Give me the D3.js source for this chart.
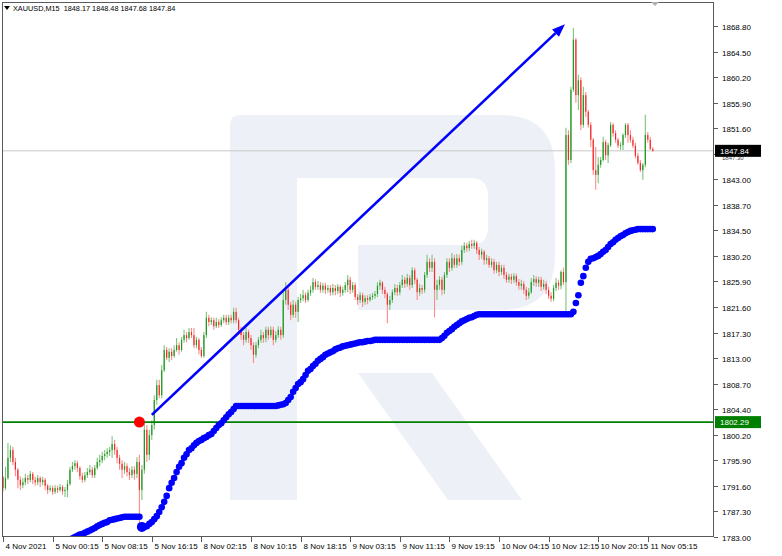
<!DOCTYPE html>
<html><head><meta charset="utf-8">
<script src="https://cdn.jsdelivr.net/npm/d3@7"></script>
<style>
body{margin:0;background:#fff}
svg{display:block}
text{font-family:"Liberation Sans",Arial,sans-serif;white-space:pre}
</style>
</head><body>
<svg id="chart" width="782" height="556"></svg>
<script>
// ---------------- DATA ----------------
const symbolTitle = "XAUUSD,M15  1848.17 1848.48 1847.68 1847.84";
const firstOpen = 1793.1;
const closes = [
1791.2,1792.9,1796.3,1797.6,1795.6,1794.3,1792.6,1791.7,1792.2,1792.9,
1792.6,1793.6,1792.6,1792.2,1792.9,1792.2,1792.6,1791.6,1790.9,1791.2,
1790.6,1791.2,1790.9,1791.4,1790.7,1790.9,1791.9,1794.3,1794.9,1795.4,
1794.6,1793.2,1792.6,1793.4,1793.9,1794.3,1793.4,1794.6,1795.6,1795.9,
1796.6,1796.9,1797.3,1797.6,1798.6,1797.6,1796.3,1795.3,1794.3,1794.9,
1793.9,1793.4,1794.3,1793.6,1795.6,1790.9,1794.3,1801.0,1796.8,1800.1,
1801.8,1806.0,1808.5,1806.8,1811.0,1814.4,1813.1,1814.1,1813.4,1814.4,
1815.2,1814.4,1816.1,1816.9,1816.4,1817.4,1816.9,1815.2,1816.1,1814.4,
1813.4,1816.9,1819.8,1819.1,1819.4,1818.4,1819.1,1818.6,1819.4,1819.8,
1819.1,1819.8,1819.4,1820.8,1819.4,1817.8,1816.9,1816.1,1817.4,1816.4,
1815.2,1813.6,1815.2,1816.1,1816.9,1816.4,1817.8,1816.9,1817.8,1816.1,
1816.9,1817.8,1816.9,1822.8,1824.5,1822.0,1820.3,1822.0,1820.8,1822.8,
1823.1,1823.6,1822.8,1824.0,1824.5,1825.8,1825.0,1825.3,1824.5,1825.2,
1824.5,1824.8,1824.1,1824.8,1824.3,1825.0,1824.0,1824.5,1825.3,1826.2,
1824.5,1825.3,1823.3,1822.8,1823.6,1822.5,1823.1,1822.8,1823.3,1823.5,
1823.8,1825.2,1825.7,1824.5,1823.8,1822.0,1822.8,1824.1,1824.8,1824.1,
1825.3,1826.2,1825.5,1826.5,1825.3,1827.8,1826.2,1824.1,1824.8,1824.5,
1827.0,1829.2,1828.2,1829.2,1824.5,1825.3,1826.2,1824.5,1827.0,1829.2,
1828.2,1829.8,1828.7,1829.8,1829.2,1831.2,1831.9,1831.5,1832.2,1831.9,
1832.4,1831.2,1830.4,1830.9,1829.5,1829.8,1828.7,1829.2,1827.8,1828.7,
1827.5,1828.2,1827.0,1826.2,1826.7,1826.2,1826.8,1825.8,1825.2,1825.5,
1824.5,1823.5,1824.1,1825.8,1826.3,1825.7,1826.2,1825.0,1825.5,1824.5,
1823.5,1823.0,1824.8,1825.7,1825.2,1827.5,1825.8,1850.5,1846.3,1858.1,
1866.5,1857.2,1859.7,1852.2,1857.2,1854.4,1852.2,1849.7,1844.6,1843.8,
1845.5,1846.3,1849.3,1847.1,1848.8,1852.2,1850.8,1849.7,1848.7,1848.8,
1850.5,1852.2,1850.5,1849.7,1848.7,1847.0,1845.8,1844.6,1845.5,1850.5,
1849.7,1848.17,1847.84];
const highs = [
1793.2,1794.8,1798.8,1798.4,1798.1,1796.3,1794.6,1793.2,1792.9,1793.6,
1793.4,1794.1,1793.9,1793.1,1793.4,1793.2,1793.1,1792.9,1791.9,1791.7,
1791.6,1791.7,1791.6,1791.9,1791.7,1791.4,1792.6,1794.8,1795.6,1795.9,
1795.8,1794.9,1793.8,1793.9,1794.6,1795.1,1794.8,1795.1,1796.3,1796.8,
1797.3,1797.6,1797.9,1798.1,1799.9,1799.3,1798.1,1796.8,1795.9,1795.6,
1795.4,1794.6,1794.9,1794.9,1796.4,1796.8,1795.1,1802.1,1801.8,1801.0,
1802.6,1806.8,1809.4,1809.4,1811.9,1815.2,1814.9,1814.7,1814.7,1815.2,
1816.4,1815.7,1816.6,1817.8,1817.4,1818.1,1818.1,1818.1,1816.6,1816.4,
1814.9,1817.4,1820.8,1820.3,1819.9,1819.8,1819.8,1819.6,1819.9,1820.3,
1820.3,1820.3,1820.3,1821.5,1821.5,1819.8,1818.3,1817.4,1818.1,1817.8,
1816.9,1815.7,1815.7,1816.6,1817.8,1817.4,1818.3,1818.3,1818.4,1818.3,
1817.6,1818.4,1818.3,1824.1,1825.8,1825.0,1822.5,1822.8,1822.5,1823.3,
1823.8,1824.5,1824.1,1824.5,1825.2,1826.5,1826.3,1826.0,1825.8,1825.7,
1825.7,1825.3,1825.3,1825.5,1825.3,1825.5,1825.3,1825.0,1825.8,1827.0,
1826.7,1825.8,1825.7,1823.8,1824.1,1824.0,1823.6,1823.6,1823.8,1824.0,
1824.3,1825.8,1826.2,1826.0,1825.0,1824.1,1823.5,1824.6,1825.5,1825.3,
1825.8,1827.0,1826.7,1827.2,1827.0,1828.3,1828.2,1826.5,1825.5,1825.3,
1827.5,1830.4,1829.8,1830.4,1829.8,1826.2,1826.8,1826.7,1827.5,1829.8,
1829.8,1830.7,1830.4,1830.5,1830.4,1831.9,1832.5,1832.4,1832.7,1832.9,
1832.9,1832.7,1831.7,1831.4,1831.2,1830.4,1830.2,1829.8,1829.7,1829.2,
1829.2,1828.7,1828.7,1827.5,1827.2,1827.2,1827.3,1827.2,1826.3,1826.2,
1826.0,1825.0,1824.8,1826.5,1827.0,1826.8,1826.7,1826.7,1826.2,1826.0,
1825.0,1824.1,1825.3,1826.5,1826.2,1827.8,1828.2,1851.7,1851.3,1858.6,
1868.5,1866.8,1860.6,1860.2,1858.6,1857.7,1854.7,1852.7,1850.0,1848.5,
1846.8,1846.8,1850.2,1849.7,1849.2,1852.7,1852.5,1851.3,1850.0,1849.3,
1850.8,1852.5,1852.5,1851.3,1850.2,1849.2,1847.5,1846.3,1845.8,1853.9,
1851.0,1850.2,1848.48];
const lows = [
1790.6,1790.9,1792.6,1795.6,1795.1,1793.2,1791.2,1790.9,1791.2,1791.7,
1791.9,1792.2,1791.9,1791.6,1791.7,1791.4,1791.7,1790.9,1790.2,1790.6,
1790.1,1790.2,1790.4,1790.6,1790.1,1789.7,1789.7,1791.6,1793.9,1794.3,
1793.9,1792.6,1792.1,1792.2,1792.9,1793.4,1792.9,1792.9,1794.3,1794.9,
1795.4,1795.9,1796.3,1796.6,1796.3,1796.8,1795.4,1794.3,1792.9,1793.6,
1793.2,1792.6,1792.9,1792.6,1792.9,1785.0,1789.2,1793.6,1795.6,1795.9,
1799.3,1801.0,1805.2,1806.3,1806.3,1810.7,1812.7,1812.4,1812.7,1813.1,
1814.1,1813.6,1814.1,1815.6,1815.7,1816.1,1816.4,1814.7,1814.7,1813.7,
1813.1,1813.1,1816.4,1818.4,1818.6,1817.8,1818.1,1818.1,1818.3,1818.9,
1818.6,1818.6,1818.9,1818.9,1818.9,1816.9,1816.1,1815.2,1815.6,1815.6,
1814.4,1812.2,1813.1,1814.7,1815.6,1815.6,1815.7,1816.1,1816.4,1815.2,
1815.6,1816.4,1816.1,1816.4,1822.0,1821.1,1819.4,1819.8,1819.8,1819.1,
1822.3,1822.6,1822.3,1822.5,1823.5,1824.0,1824.5,1824.5,1824.0,1824.0,
1823.8,1824.0,1823.5,1823.6,1823.6,1823.8,1823.3,1823.5,1824.0,1824.1,
1823.8,1824.0,1822.8,1822.0,1822.3,1821.6,1822.0,1822.1,1822.5,1822.8,
1823.0,1823.3,1824.5,1823.8,1823.1,1818.9,1821.1,1822.3,1823.6,1823.5,
1823.6,1824.8,1824.8,1825.0,1824.5,1824.8,1825.5,1822.8,1823.5,1823.8,
1824.0,1826.5,1827.5,1827.5,1819.9,1822.8,1824.5,1823.6,1823.8,1826.5,
1827.5,1827.7,1828.2,1828.2,1828.5,1828.7,1830.7,1830.9,1831.0,1831.4,
1831.4,1830.5,1829.5,1829.7,1828.7,1828.8,1828.2,1828.2,1827.2,1827.3,
1826.8,1827.0,1826.3,1825.7,1825.7,1825.5,1825.7,1825.2,1824.5,1824.5,
1823.8,1822.8,1823.0,1823.8,1825.2,1825.0,1825.0,1824.3,1824.5,1823.8,
1823.0,1822.5,1822.6,1824.3,1824.5,1824.6,1825.3,1820.8,1845.5,1845.8,
1857.7,1855.9,1854.7,1851.3,1851.7,1853.5,1851.7,1848.5,1843.8,1841.3,
1842.4,1845.0,1846.0,1846.3,1845.8,1848.5,1850.2,1849.2,1848.3,1848.0,
1848.0,1850.0,1849.2,1849.2,1848.3,1846.6,1845.5,1844.3,1843.0,1845.1,
1849.2,1848.0,1847.68];

// trailing indicator (blue dots), starting at bar indicatorStart
const indicatorStart = 26;
const indicator = [
1782.2,1782.5,1782.8,1783.0,1783.2,1783.4,1783.5,1783.7,1783.9,1784.1,
1784.3,1784.5,1784.8,1785.0,1785.2,1785.4,1785.5,1785.8,1785.9,1786.0,
1786.1,1786.2,1786.3,1786.4,1786.4,1786.4,1786.4,1786.4,1786.4,1786.4,
1784.7,1784.7,1784.8,1785.2,1785.5,1786.0,1786.5,1787.2,1788.0,1788.9,
1789.9,1791.2,1792.1,1792.9,1793.9,1794.8,1795.4,1796.3,1796.9,1797.6,
1797.9,1798.4,1798.8,1799.1,1799.3,1799.6,1799.8,1800.1,1800.3,1800.8,
1801.3,1801.8,1802.1,1802.6,1803.1,1803.6,1804.0,1804.5,1805.0,
1805.0,1805.0,1805.0,1805.0,1805.0,1805.0,1805.0,1805.0,1805.0,1805.0,
1805.0,1805.0,1805.0,1805.0,1805.0,1805.0,
1805.1,1805.2,1805.3,1805.5,1806.0,1806.5,1807.4,1808.0,1808.7,1809.0,
1809.5,1810.2,1810.9,1811.2,1811.7,1812.1,1812.6,1812.9,1813.2,1813.6,
1813.8,1814.0,1814.2,1814.5,1814.7,1814.8,1815.0,1815.1,1815.2,1815.3,
1815.4,1815.5,1815.6,1815.7,1815.7,1815.8,1815.9,1815.9,1816.0,
1816.1,1816.1,1816.1,1816.1,1816.1,1816.1,1816.1,1816.1,1816.1,1816.1,
1816.1,1816.1,1816.1,1816.1,1816.1,1816.1,1816.1,1816.1,1816.1,1816.1,
1816.1,1816.1,1816.1,1816.1,1816.1,1816.1,1816.1,
1816.4,1816.8,1817.3,1817.6,1817.9,1818.3,1818.6,1818.9,1819.2,1819.4,
1819.6,1819.8,1819.9,1820.1,1820.3,
1820.4,1820.4,1820.4,1820.4,1820.4,1820.4,1820.4,1820.4,1820.4,1820.4,
1820.4,1820.4,1820.4,1820.4,1820.4,1820.4,1820.4,1820.4,1820.4,1820.4,
1820.4,1820.4,1820.4,1820.4,1820.4,1820.4,1820.4,1820.4,1820.4,1820.4,
1820.4,1820.4,1820.4,1820.4,1820.4,1820.4,1820.4,1820.4,
1820.8,1822.3,1823.6,1825.7,1826.8,1828.2,1829.2,1829.7,1829.8,1830.0,
1830.2,1830.5,1830.9,1831.2,1831.7,1832.2,1832.5,1832.9,1833.2,1833.5,
1833.7,1834.0,1834.2,1834.4,1834.5,1834.6,
1834.7,1834.7,1834.7,1834.7,1834.7,1834.7,1834.7];
const indicatorBigIndex = 56;

const timeTickIndex = [0,20,40,60,80,100,120,140,160,180,200,220,240,260];
const timeLabels = ["4 Nov 2021","5 Nov 00:15","5 Nov 08:15","5 Nov 16:15","8 Nov 02:15","8 Nov 10:15","8 Nov 18:15","9 Nov 03:15","9 Nov 11:15","9 Nov 19:15","10 Nov 04:15","10 Nov 12:15","10 Nov 20:15","11 Nov 05:15"];
const priceTicks = [1868.8,1864.51,1860.22,1855.93,1851.64,1847.35,1843.06,1838.77,1834.48,1830.19,1825.9,1821.61,1817.32,1813.03,1808.74,1804.45,1800.16,1795.87,1791.58,1787.29,1783.0];
const priceLabels = ["1868.80","1864.50","1860.20","1855.90","1851.60","1847.30","1843.00","1838.70","1834.50","1830.20","1825.90","1821.60","1817.30","1813.00","1808.70","1804.40","1800.20","1795.90","1791.60","1787.30","1783.00"];
const bidPrice = 1847.84;
const levelPrice = 1802.29;
const levelIndex = 55;
const arrowIndex = [60, 226.6];
const arrowPrice = [1803.5, 1869.1];

// ---------------- CHART ----------------
const svg = d3.select("#chart");
const P = {left:2, top:2, right:714, bottom:537};
const x = d3.scaleLinear().domain([0,260]).range([3,647.8]);
const y = d3.scaleLinear().domain([1783.0,1868.8]).range([537,26]);

svg.append("rect").attr("width",782).attr("height",556).attr("fill","#fff");

svg.append("defs").append("clipPath").attr("id","plotclip")
  .append("rect").attr("x",P.left).attr("y",P.top).attr("width",P.right-P.left).attr("height",P.bottom-P.top);

// watermark logo
const wm = svg.append("g").attr("fill","#edf0f6");
wm.append("path").attr("fill-rule","evenodd").attr("d",
  "M230,125 Q230,115 240,115 L500,115 Q555,115 555,170 L555,255 Q555,310 500,310 L358,310 L358,245 L470,245 Q488,245 488,227 L488,196 Q488,178 470,178 L297,178 L297,500 L230,500 Z");
wm.append("path").attr("d","M358,373 L432,373 L522,500 L448,500 Z");

const plot = svg.append("g").attr("clip-path","url(#plotclip)");

// bid line
plot.append("line").attr("x1",P.left).attr("x2",P.right)
  .attr("y1",y(bidPrice)).attr("y2",y(bidPrice)).attr("stroke","#c8c8c8").attr("stroke-width",1);

// candles
const bars = closes.map((c,i)=>({i, o: i?closes[i-1]:firstOpen, c, h: highs[i], l: lows[i]}));
const cg = plot.append("g");
bars.forEach(b=>{
  const up = b.c >= b.o;
  const hi = Math.max(b.h,b.o,b.c), lo = Math.min(b.l,b.o,b.c);
  const xx = x(b.i);
  cg.append("line").attr("x1",xx).attr("x2",xx).attr("y1",y(hi)).attr("y2",y(lo))
    .attr("stroke", up ? "#7cc47c" : "#ff8a8a").attr("stroke-width",1.1);
  const top = y(Math.max(b.o,b.c)), bot = y(Math.min(b.o,b.c));
  cg.append("rect").attr("x",xx-0.6).attr("width",1.2).attr("y",top).attr("height",Math.max(1,bot-top))
    .attr("fill", up ? "#1f961f" : "#f02a2a");
});

// level line
plot.append("line").attr("x1",0).attr("x2",P.right)
  .attr("y1",y(levelPrice)).attr("y2",y(levelPrice)).attr("stroke","#008000").attr("stroke-width",1.6);

// indicator dots
const ig = plot.append("g").attr("fill","#0000ff");
indicator.forEach((v,k)=>{
  const i = indicatorStart + k;
  ig.append("circle").attr("cx",x(i)).attr("cy",y(v)).attr("r", i===indicatorBigIndex ? 5 : 3.3);
});

// arrow
const ax0 = x(arrowIndex[0]), ay0 = y(arrowPrice[0]), ax1 = x(arrowIndex[1]), ay1 = y(arrowPrice[1]);
const ang = Math.atan2(ay1-ay0, ax1-ax0);
const hl = 13, hw = 5;
const bx = ax1 - hl*Math.cos(ang), by = ay1 - hl*Math.sin(ang);
plot.append("line").attr("x1",ax0).attr("y1",ay0).attr("x2",bx).attr("y2",by)
  .attr("stroke","#0000ff").attr("stroke-width",2.6);
plot.append("path").attr("fill","#0000ff").attr("d",
  `M${ax1},${ay1} L${bx - hw*Math.sin(ang)},${by + hw*Math.cos(ang)} L${bx + hw*Math.sin(ang)},${by - hw*Math.cos(ang)} Z`);

// red marker
plot.append("circle").attr("cx",x(levelIndex)).attr("cy",y(levelPrice)).attr("r",5.5).attr("fill","#ff0000");

// frame
svg.append("rect").attr("x",P.left+0.5).attr("y",P.top+0.5).attr("width",P.right-P.left-1).attr("height",P.bottom-P.top-1)
  .attr("fill","none").attr("stroke","#5a5a5a").attr("stroke-width",1);

// y axis (labels hidden under a price box are shown only below it)
const boxes = [bidPrice, levelPrice];
const yAxisG = svg.append("g");
priceTicks.forEach((p,k)=>{
  const yy = Math.round(y(p))+0.5;
  yAxisG.append("line").attr("x1",P.right).attr("x2",P.right+4).attr("y1",yy).attr("y2",yy).attr("stroke","#5a5a5a");
  const covered = boxes.some(b=>Math.abs(y(b)-yy) < 9);
  const t = yAxisG.append("text").attr("x",P.right+8).attr("y",yy+3).attr("font-size",8).attr("fill","#000").text(priceLabels[k]);
  if (covered) t.attr("font-size",6).attr("y",yy+5).attr("fill","#444");
});

// price boxes
function priceBox(p, bg){
  const yy = y(p);
  svg.append("rect").attr("x",P.right+1).attr("y",yy-6).attr("width",46).attr("height",12).attr("fill",bg);
  svg.append("text").attr("x",P.right+6).attr("y",yy+3).attr("font-size",8).attr("fill","#fff").text(p.toFixed(2));
}
priceBox(bidPrice,"#000");
priceBox(levelPrice,"#008000");

// x axis
const xAxisG = svg.append("g");
timeTickIndex.forEach((ti,k)=>{
  const xx = Math.round(x(ti))+0.5;
  xAxisG.append("line").attr("x1",xx).attr("x2",xx).attr("y1",P.bottom).attr("y2",P.bottom+5).attr("stroke","#5a5a5a");
  xAxisG.append("text").attr("x",xx+2).attr("y",P.bottom+12).attr("font-size",8).attr("fill","#000").text(timeLabels[k]);
});

// title
svg.append("path").attr("d","M4,6 L10,6 L7,10 Z").attr("fill","#000");
svg.append("text").attr("x",13).attr("y",11).attr("font-size",7.3).attr("fill","#000").text(symbolTitle);
// chart shift marker
svg.append("path").attr("d","M651,2 L659,2 L655,6 Z").attr("fill","#b0b0b0");
</script>
</body></html>
